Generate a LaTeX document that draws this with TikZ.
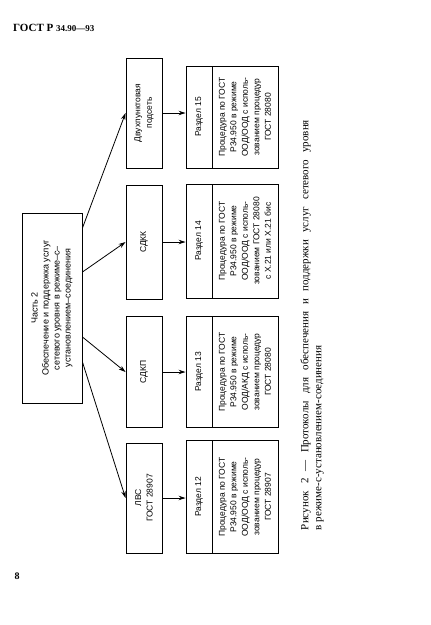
\documentclass[tikz,border=0pt]{standalone}
\usepackage{fontspec}
\setmainfont{Liberation Serif}
\setsansfont{Liberation Sans}
\usetikzlibrary{arrows.meta,positioning,calc}

\begin{document}
\begin{tikzpicture}[x=1pt,y=-1pt,
    box/.style={draw, line width=0.9pt, rotate=90, inner sep=0pt, align=center,
        font=\sffamily\fontsize{8.5}{11.5}\selectfont},
    arr/.style={-{Stealth[length=7pt,width=4.5pt]}, line width=0.8pt}]
    \useasboundingbox (0,0) rectangle (431,625);

    % Header and page number
    \node[anchor=west, inner sep=0pt, font=\bfseries] (head) at (13,28)
        {\fontsize{11}{12}\selectfont ГОСТ Р \fontsize{9}{10}\selectfont 34.90—93};
    \node[inner sep=0pt, font=\bfseries\fontsize{10}{12}\selectfont] (page) at (17,576) {8};

    % Part 2
    \node[box, minimum width=190pt, minimum height=60pt,
        font=\sffamily\fontsize{9}{11}\selectfont] (part) at (52,308)
        {Часть 2\\Обеспечение и поддержка услуг\\сетевого уровня в режиме–с–\\установлением–соединения};

    % Subnetworks
    \node[box, minimum width=110pt, minimum height=36pt] (dvuh) at (144,113) {Двухпунктовая\\подсеть};
    \node[box, minimum width=114pt, minimum height=36pt] (sdkk) at (144,242) {СДКК};
    \node[box, minimum width=111pt, minimum height=36pt] (sdkp) at (144,372) {СДКП};
    \node[box, minimum width=110pt, minimum height=36pt] (lvs) at (144,498) {ЛВС\\ГОСТ 28907};

    % Section 15
    \node[box, minimum width=102pt, minimum height=26pt] (r15) at (199,117) {Раздел 15};
    \node[box, minimum width=102pt, minimum height=66pt] (p15) at (245,117)
        {Процедура по ГОСТ\\Р34.950 в режиме\\ООД/ООД с исполь-\\зованием процедур\\ГОСТ 28080};

    % Section 14
    \node[box, minimum width=114pt, minimum height=26pt] (r14) at (199,241) {Раздел 14};
    \node[box, minimum width=114pt, minimum height=66pt] (p14) at (245,241)
        {Процедура по ГОСТ\\Р34.950 в режиме\\ООД/ООД с исполь-\\зованием ГОСТ 28080\\с Х.21 или Х.21 бис};

    % Section 13
    \node[box, minimum width=111pt, minimum height=26pt] (r13) at (199,372) {Раздел 13};
    \node[box, minimum width=111pt, minimum height=66pt] (p13) at (245,372)
        {Процедура по ГОСТ\\Р34.950 в режиме\\ООД/АКД с исполь-\\зованием процедур\\ГОСТ 28080};

    % Section 12
    \node[box, minimum width=113pt, minimum height=26pt] (r12) at (199,497) {Раздел 12};
    \node[box, minimum width=113pt, minimum height=66pt] (p12) at (245,497)
        {Процедура по ГОСТ\\Р34.950 в режиме\\ООД/ООД с исполь-\\зованием процедур\\ГОСТ 28907};

    % Arrows from part 2
    \draw[arr] (part.south |- 0,228) -- (dvuh.north);
    \draw[arr] (part.south |- 0,272) -- (sdkk.north);
    \draw[arr] (part.south |- 0,337) -- (sdkp.north);
    \draw[arr] (part.south |- 0,362) -- (lvs.north);

    % Arrows to sections
    \draw[arr] (dvuh.south) -- (dvuh.south -| r15.north);
    \draw[arr] (sdkk.south) -- (sdkk.south -| r14.north);
    \draw[arr] (sdkp.south) -- (sdkp.south -| r13.north);
    \draw[arr] (lvs.south) -- (lvs.south -| r12.north);

    % Caption
    \node[rotate=90, text width=410pt, align=justify, inner sep=0pt,
        font=\fontsize{11}{13}\selectfont] (cap) at (312,325)
        {\hangindent=80pt\hangafter=1 Рисунок~2 — Протоколы для обеспечения и поддержки услуг сетевого уровня\linebreak
        в режиме-с-установлением-соединения};
\end{tikzpicture}
\end{document}
